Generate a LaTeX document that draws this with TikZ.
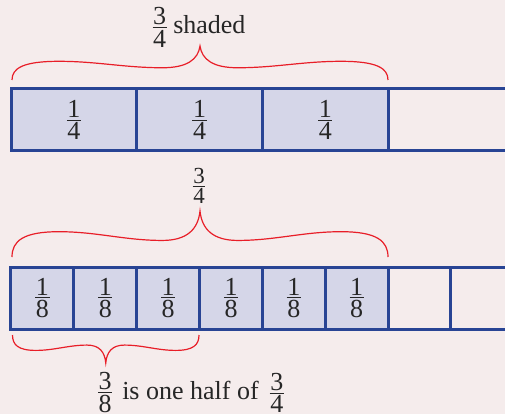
\documentclass[tikz,border=0pt]{standalone}
\usepackage{fontspec}
\setmainfont{Liberation Serif}
\definecolor{bg}{RGB}{245,236,236}
\definecolor{bblue}{RGB}{40,68,148}
\definecolor{bfill}{RGB}{213,214,232}
\definecolor{bred}{RGB}{232,30,40}
\newcommand\myfr[2]{\ensuremath{\vcenter{\offinterlineskip\halign{\hfil\kern0.6pt##\kern0.6pt\hfil\cr #1\cr\noalign{\kern2.2pt\hrule height 0.9pt\kern2.2pt}#2\cr}}}}
\tikzset{
  cellbase/.style={rectangle, draw=bblue, line width=3pt, inner sep=0pt, minimum height=62pt, font=\fontsize{26}{30}\selectfont, text=black!85},
  quarter/.style={cellbase, minimum width=125.7pt},
  eighth/.style={cellbase, minimum width=62.85pt},
  shaded/.style={fill=bfill},
  lbl/.style={inner sep=0pt, font=\fontsize{26}{30}\selectfont, text=black!85},
  bracestyle/.style={draw=bred, line width=1.2pt},
  bracepic/.pic={\draw[bracestyle] (0,0) .. controls (0,0.35) and (0.06,0.55) .. (0.25,0.55) .. controls (0.45,0.55) and (0.6,0.36) .. (0.8,0.36) .. controls (0.93,0.36) and (0.99,0.6) .. (1,1) .. controls (1.01,0.6) and (1.07,0.36) .. (1.2,0.36) .. controls (1.4,0.36) and (1.55,0.55) .. (1.75,0.55) .. controls (1.94,0.55) and (2,0.35) .. (2,0);}
}
\begin{document}
\begin{tikzpicture}[x=1pt,y=-1pt]
\useasboundingbox (0,0) rectangle (505,414);
\clip (0,0) rectangle (505,414);
\fill[bg] (0,0) rectangle (505,414);
% top bar
\node[quarter,shaded] (q1) at (73.85,120) {\myfr{1}{4}};
\node[quarter,shaded] (q2) at (199.55,120) {\myfr{1}{4}};
\node[quarter,shaded] (q3) at (325.25,120) {\myfr{1}{4}};
\node[quarter] (q4) at (450.95,120) {};
% bottom bar
\node[eighth,shaded] (e1) at (42.4,298) {\myfr{1}{8}};
\node[eighth,shaded] (e2) at (105.3,298) {\myfr{1}{8}};
\node[eighth,shaded] (e3) at (168.1,298) {\myfr{1}{8}};
\node[eighth,shaded] (e4) at (231.0,298) {\myfr{1}{8}};
\node[eighth,shaded] (e5) at (293.8,298) {\myfr{1}{8}};
\node[eighth,shaded] (e6) at (356.7,298) {\myfr{1}{8}};
\node[eighth] (e7) at (419.5,298) {};
\node[eighth] (e8) at (482.4,298) {};
% braces
\pic[xscale=188, yscale=-34] at (12,80) {bracepic};
\pic[xscale=188, yscale=-46] at (12,257) {bracepic};
\pic[xscale=93.25, yscale=28] at (12.5,335) {bracepic};
% labels
\node[lbl, anchor=base] (l1) at (199,33.5) {\myfr{3}{4} shaded};
\node[lbl, font=\fontsize{23}{28}\selectfont] (l2) at (199,186) {\myfr{3}{4}};
\node[lbl, anchor=base] (l3) at (191,399) {\myfr{3}{8}\hspace{10pt}is one half of\hspace{11pt}\myfr{3}{4}};
\end{tikzpicture}
\end{document}
